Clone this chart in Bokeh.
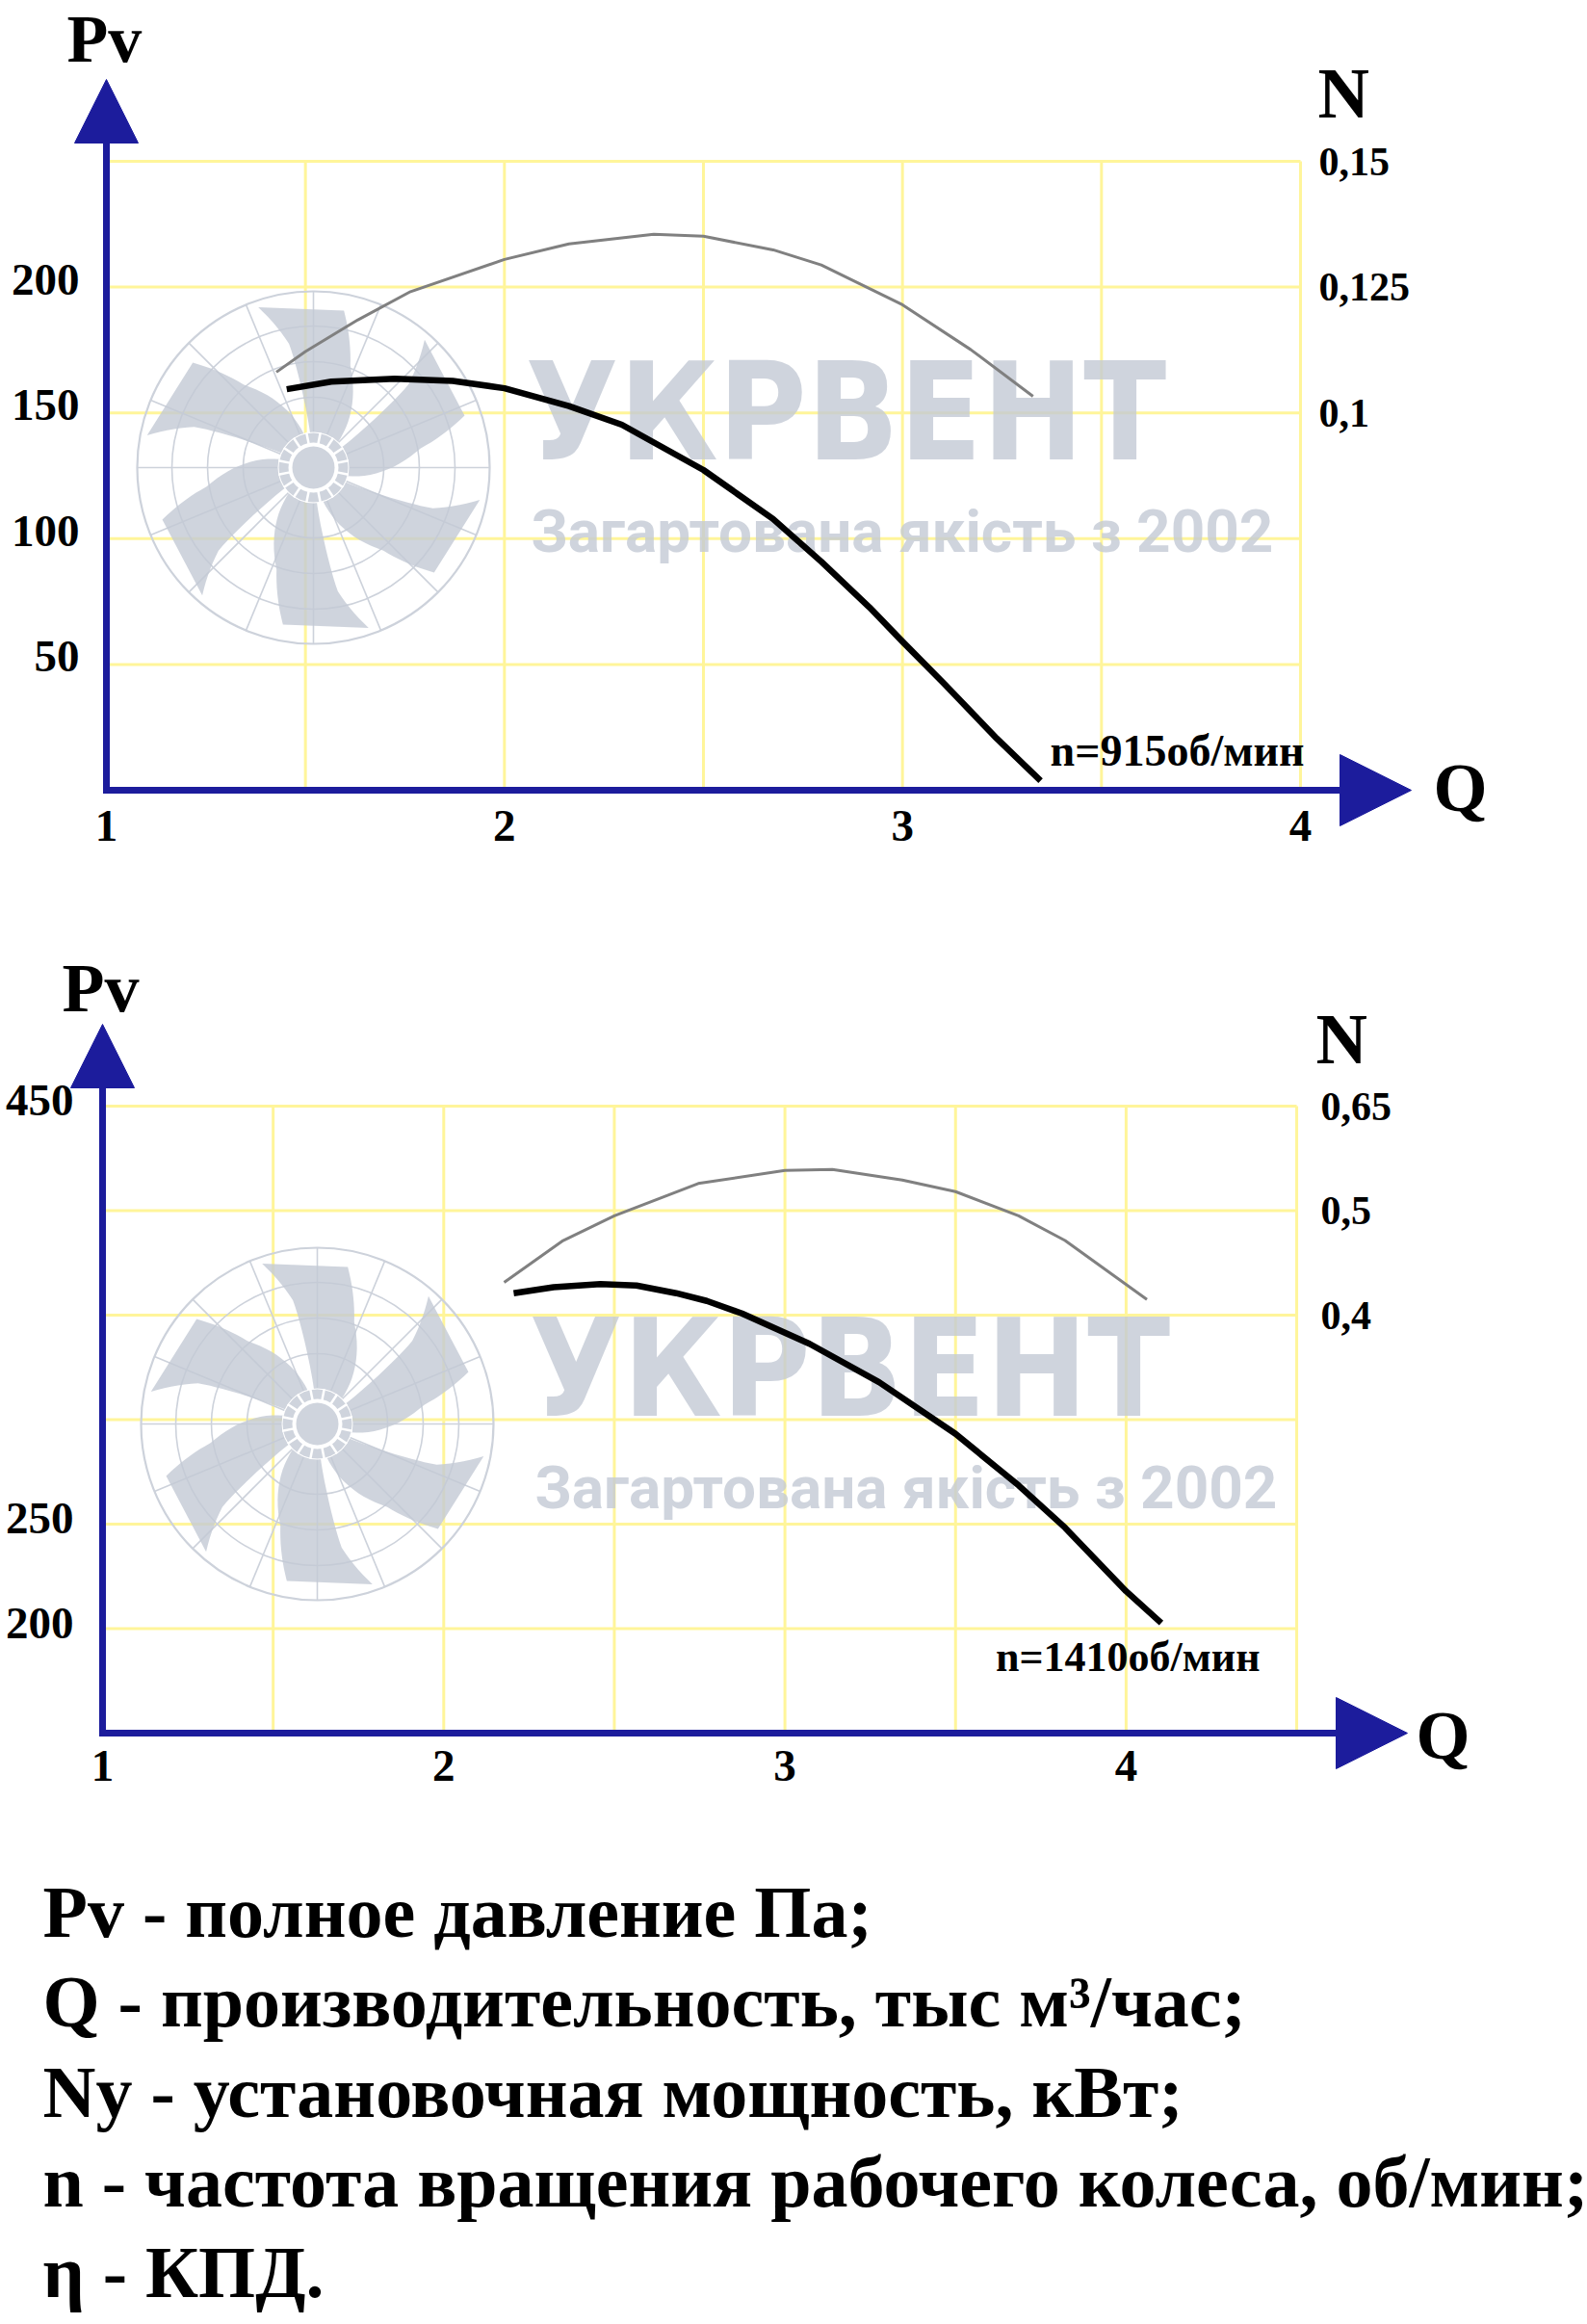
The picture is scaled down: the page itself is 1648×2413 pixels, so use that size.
import numpy as np
from bokeh.plotting import figure
from bokeh.models import Range1d, Arrow, NormalHead
from bokeh.layouts import column
from bokeh.core.properties import value
from bokeh.embed import file_html
from bokeh.resources import INLINE

# ---------------- data: chart 1 (n = 915 rpm) ----------------
Q_TICKS_1 = [1, 2, 3, 4]
PV_TICKS_1 = [50, 100, 150, 200]
PV_GRID_1 = [50, 100, 150, 200, 250]
Q_GRID_1 = [1.5, 2, 2.5, 3, 3.5, 4]
Q_SPAN_1 = [1, 4]
PV_SPAN_1 = [0, 250]
N_TICKS_1 = [0.15, 0.125, 0.1]
N_LABELS_1 = ["0,15", "0,125", "0,1"]
Q_PV_1 = [1.453, 1.565, 1.724, 1.870, 2.0, 2.162, 2.295, 2.5, 2.675, 2.796, 2.917, 3.0, 3.105, 3.236, 3.347]
PV_1 = [159.4, 162.4, 163.6, 162.7, 159.8, 152.7, 145.3, 127.3, 107.8, 90.9, 72.7, 59.1, 42.3, 20.7, 3.8]
Q_N_1 = [1.427, 1.5, 1.632, 1.764, 2.0, 2.162, 2.375, 2.5, 2.675, 2.796, 3.0, 3.171, 3.328]
N_1 = [0.1081, 0.1122, 0.1185, 0.1241, 0.1305, 0.1336, 0.1355, 0.1351, 0.1324, 0.1294, 0.1215, 0.1126, 0.1033]
RPM_1 = "n=915об/мин"

# ---------------- data: chart 2 (n = 1410 rpm) ----------------
Q_TICKS_2 = [1, 2, 3, 4]
PV_TICKS_2 = [200, 250, 450]
PV_GRID_2 = [200, 250, 300, 350, 400, 450]
Q_GRID_2 = [1.5, 2, 2.5, 3, 3.5, 4, 4.5]
Q_SPAN_2 = [1, 4.5]
PV_SPAN_2 = [150, 450]
N_TICKS_2 = [0.6, 0.5, 0.4]
N_LABELS_2 = ["0,65", "0,5", "0,4"]
Q_PV_2 = [2.205, 2.322, 2.459, 2.565, 2.681, 2.771, 2.874, 3.072, 3.276, 3.5, 3.685, 3.821, 4.0, 4.103]
PV_2 = [360.5, 363.4, 364.9, 364.2, 360.5, 356.8, 350.8, 336.3, 317.9, 293.2, 268.5, 248.3, 217.9, 202.7]
Q_N_2 = [2.177, 2.35, 2.5, 2.746, 3.0, 3.139, 3.344, 3.5, 3.685, 3.821, 4.061]
N_2 = [0.4314, 0.4714, 0.495, 0.526, 0.5384, 0.5394, 0.5292, 0.5182, 0.495, 0.4714, 0.415]
RPM_2 = "n=1410об/мин"

LEGEND_LINES = [
    "Pv - полное давление Па;",
    "Q - производительность, тыс м³/час;",
    "Ny - установочная мощность, кВт;",
    "n - частота вращения рабочего колеса, об/мин;",
    "η - КПД.",
]
BRAND = "УКРВЕНТ"
SLOGAN = "Загартована якість з 2002"

# ---------------- style / layout (page pixels) ----------------
BLUE = "#1c1c9c"
GRID_COL = "#fff59a"
WM_FILL = "#c3c9d4"
WM_LINE = "#cdd2db"
SERIF = "Liberation Serif"
PAGE_W = 1648

L1 = dict(top=0, h=940, ax=110, ay=820, q0=1.0, p0=0.0, qpx=413.33, ppx=2.612,
          n_a=0.025, n_b=1 / 2000.0, ytip=82, xtip=1465, head_y=66, head_x=74,
          pv_lab=(69, 40, 70), n_lab=(1368, 96), q_lab=(1488, 817), ntick_x=1369,
          rpm=(1354, 779), rpm_size=46, fan=(325, 485), ltick_x=82, ltick_dy=-8,
          btick_y=857)
L2 = dict(top=940, h=940, ax=106, ay=1799, q0=1.0, p0=150.0, qpx=354.3, ppx=2.17,
          n_a=-0.3, n_b=0.002, ytip=1063, xtip=1461, head_y=66, head_x=74,
          pv_lab=(64, 1025, 72), n_lab=(1366, 1078), q_lab=(1470, 1801), ntick_x=1371,
          rpm=(1308, 1720), rpm_size=44, fan=(329, 1478), ltick_x=76, ltick_dy=-6,
          btick_y=1833)
LEG = dict(top=1880, h=533, x=44, y0=1984, dy=93.5, size="76px")

BLADE_CENTERS = [94, 34, -26, -86, -146, 154]
R_CCW, OFF_CCW = [28, 72, 130, 176], [1, 4, 7, 15]
R_CW, OFF_CW = [30, 57, 112, 166], [-50, -42, -24, -15]


def txt(p, x, y, t, size, align="left", **kw):
    p.text(x=x, y=y, text=t, text_font=value(SERIF), text_font_style="bold",
           text_font_size=size, text_color="black", text_align=align,
           text_baseline="middle", **kw)


def chart(L, q_ticks, pv_ticks, pv_grid, q_grid, q_span, pv_span,
          n_ticks, n_labels, q_pv, pv, q_n, nvals, rpm):
    qa = lambda px: L["q0"] + (px - L["ax"]) / L["qpx"]
    pa = lambda py: L["p0"] + (L["ay"] - py) / L["ppx"]
    na = lambda v: L["n_a"] + L["n_b"] * v
    y0, y1 = pa(L["top"] + L["h"]), pa(L["top"])
    p = figure(width=PAGE_W, height=L["h"],
               x_range=Range1d(qa(0), qa(PAGE_W)), y_range=Range1d(y0, y1),
               output_backend="svg", toolbar_location=None, title=None,
               x_axis_location=None, y_axis_location=None,
               min_border_left=0, min_border_right=0, min_border_top=0, min_border_bottom=0)
    p.extra_y_ranges = {"N": Range1d(na(y0), na(y1))}
    p.outline_line_color = None
    p.grid.visible = False

    # grid
    p.segment(x0=[q_span[0]] * len(pv_grid), x1=[q_span[1]] * len(pv_grid),
              y0=pv_grid, y1=pv_grid, line_color=GRID_COL, line_width=3)
    p.segment(x0=q_grid, x1=q_grid, y0=[pv_span[0]] * len(q_grid),
              y1=[pv_span[1]] * len(q_grid), line_color=GRID_COL, line_width=3)

    # watermark (decorative)
    cx, cy = L["fan"]
    X = lambda dx: qa(cx + dx)
    Y = lambda dy: pa(cy - dy)
    for r, lw in zip([183, 147, 110, 73], [2.2, 1.6, 1.6, 1.6]):
        p.circle(x=[X(0)], y=[Y(0)], radius=r, radius_units="screen",
                 fill_color=None, line_color=WM_LINE, line_width=lw)
    ang = np.deg2rad(np.arange(0, 360, 22.5))
    p.segment(x0=[X(36 * np.cos(a)) for a in ang], y0=[Y(36 * np.sin(a)) for a in ang],
              x1=[X(183 * np.cos(a)) for a in ang], y1=[Y(183 * np.sin(a)) for a in ang],
              line_color=WM_LINE, line_width=1.6)
    xs, ys = [], []
    ra = np.linspace(R_CCW[0], R_CCW[-1], 24)
    rc = np.linspace(R_CW[0], R_CW[-1], 24)
    for c in BLADE_CENTERS:
        ta = np.deg2rad(c + np.interp(ra, R_CCW, OFF_CCW))
        tc = np.deg2rad(c + np.interp(rc, R_CW, OFF_CW))
        px_ = list(ra * np.cos(ta)) + list((rc * np.cos(tc))[::-1])
        py_ = list(ra * np.sin(ta)) + list((rc * np.sin(tc))[::-1])
        xs.append([X(v) for v in px_])
        ys.append([Y(v) for v in py_])
    p.patches(xs, ys, fill_color=WM_FILL, fill_alpha=0.8, line_color=None)
    p.circle(x=[X(0)], y=[Y(0)], radius=37, radius_units="screen", fill_color="white", line_color=None)
    p.annulus(x=[X(0)], y=[Y(0)], inner_radius=26, outer_radius=36,
              inner_radius_units="screen", outer_radius_units="screen",
              fill_color=WM_FILL, fill_alpha=0.8, line_color=None)
    ang2 = np.deg2rad(np.arange(0, 360, 22.5) + 11.25)
    p.segment(x0=[X(25 * np.cos(a)) for a in ang2], y0=[Y(25 * np.sin(a)) for a in ang2],
              x1=[X(37 * np.cos(a)) for a in ang2], y1=[Y(37 * np.sin(a)) for a in ang2],
              line_color="white", line_width=2.5)
    p.circle(x=[X(0)], y=[Y(0)], radius=22, radius_units="screen",
             fill_color=WM_FILL, fill_alpha=0.8, line_color=None)
    p.text(x=[X(220)], y=[Y(57)], text=[BRAND],
           text_font=value("'DejaVu Sans Condensed', sans-serif"),
           text_font_style="bold", text_font_size="140px", text_color=WM_FILL, text_alpha=0.8,
           text_align="left", text_baseline="middle")
    p.text(x=[X(226)], y=[Y(-66)], text=[SLOGAN], text_font=value("Roboto"),
           text_font_style="bold", text_font_size="62px", text_color=WM_FILL, text_alpha=0.8,
           text_align="left", text_baseline="middle")

    # curves
    p.line(q_n, nvals, y_range_name="N", line_color="#808080", line_width=3)
    p.line(q_pv, pv, line_color="black", line_width=6.5, line_join="round")

    # tick labels through the scales
    txt(p, [qa(L["ltick_x"])] * len(pv_ticks), pv_ticks, [str(v) for v in pv_ticks], "47px",
        align="right", y_offset=L["ltick_dy"])
    txt(p, q_ticks, [pa(L["btick_y"])] * len(q_ticks), [str(v) for v in q_ticks], "47px",
        align="center")
    txt(p, [qa(L["ntick_x"])] * len(n_ticks), n_ticks, n_labels, "42px", y_range_name="N")

    # axes with arrows
    p.add_layout(Arrow(end=NormalHead(size=L["head_y"], fill_color=BLUE, line_color=BLUE, line_width=1),
                       x_start=L["q0"], y_start=pa(L["ay"] + 3.5), x_end=L["q0"], y_end=pa(L["ytip"]),
                       line_color=BLUE, line_width=7))
    p.add_layout(Arrow(end=NormalHead(size=L["head_x"], fill_color=BLUE, line_color=BLUE, line_width=1),
                       x_start=qa(L["ax"] - 3.5), y_start=L["p0"], x_end=qa(L["xtip"]), y_end=L["p0"],
                       line_color=BLUE, line_width=7))

    # axis titles and speed label
    txt(p, [qa(L["pv_lab"][0])], [pa(L["pv_lab"][1])], ["Pv"], "%dpx" % L["pv_lab"][2])
    txt(p, [qa(L["n_lab"][0])], [pa(L["n_lab"][1])], ["N"], "74px")
    txt(p, [qa(L["q_lab"][0])], [pa(L["q_lab"][1])], ["Q"], "72px")
    txt(p, [qa(L["rpm"][0])], [pa(L["rpm"][1])], [rpm], "%dpx" % L["rpm_size"], align="right")
    return p


p1 = chart(L1, Q_TICKS_1, PV_TICKS_1, PV_GRID_1, Q_GRID_1, Q_SPAN_1, PV_SPAN_1,
           N_TICKS_1, N_LABELS_1, Q_PV_1, PV_1, Q_N_1, N_1, RPM_1)
p2 = chart(L2, Q_TICKS_2, PV_TICKS_2, PV_GRID_2, Q_GRID_2, Q_SPAN_2, PV_SPAN_2,
           N_TICKS_2, N_LABELS_2, Q_PV_2, PV_2, Q_N_2, N_2, RPM_2)

# legend text block
p3 = figure(width=PAGE_W, height=LEG["h"], x_range=Range1d(0, PAGE_W),
            y_range=Range1d(LEG["top"] + LEG["h"], LEG["top"]),
            output_backend="svg", toolbar_location=None, title=None,
            x_axis_location=None, y_axis_location=None,
            min_border_left=0, min_border_right=0, min_border_top=0, min_border_bottom=0)
p3.outline_line_color = None
p3.grid.visible = False
txt(p3, [LEG["x"]] * len(LEGEND_LINES), [LEG["y0"] + LEG["dy"] * i for i in range(len(LEGEND_LINES))],
    LEGEND_LINES, LEG["size"])

layout = column(p1, p2, p3)
open("out.html", "w", encoding="utf-8").write(file_html(layout, INLINE))
